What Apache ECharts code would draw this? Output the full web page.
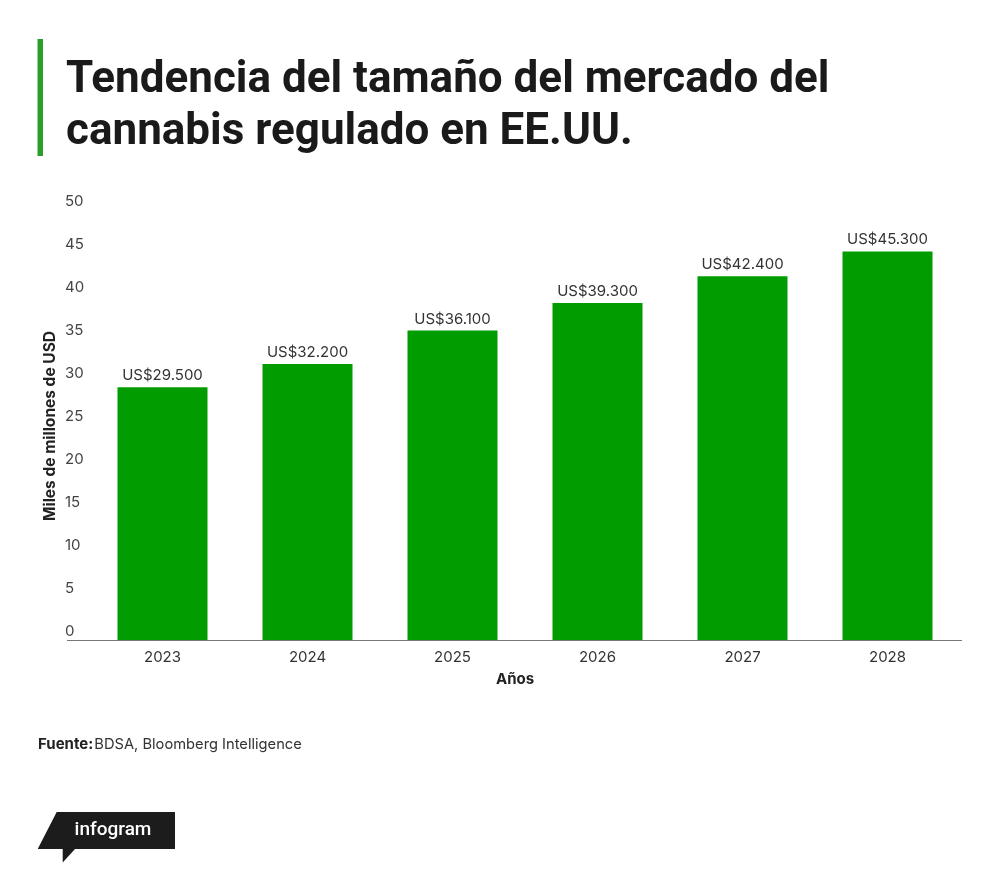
<!DOCTYPE html>
<html><head><meta charset="utf-8">
<script src="https://cdn.jsdelivr.net/npm/echarts@6/dist/echarts.min.js"></script>
<style>html,body{margin:0;padding:0;background:#fff}#c{width:1000px;height:881px}</style>
</head><body><div id="c"></div>
<script>
const years = ['2023','2024','2025','2026','2027','2028'];
const marketSize = [29.5, 32.2, 36.1, 39.3, 42.4, 45.3];
const yTicks = [0, 5, 10, 15, 20, 25, 30, 35, 40, 45, 50];

function fmt(v){
  const n = Math.round(v*1000).toString();
  return 'US$' + n.replace(/\B(?=(\d{3})+(?!\d))/g, '.');
}

const chart = echarts.init(document.getElementById('c'));
chart.setOption({
  backgroundColor:'#fff',
  animation:false,
  title:[
    {text:'Tendencia del tamaño del mercado del\ncannabis regulado en EE.UU.', left:66, top:55, padding:0,
     textStyle:{fontFamily:'Roboto', fontWeight:700, fontSize:44, lineHeight:52, color:'#1a1a1a'}},
    {text:'Años', left:515, top:672, textAlign:'center', padding:0,
     textStyle:{fontFamily:'Inter', fontWeight:700, fontSize:15, color:'#222'}},
    {text:'{b|Fuente:} {r|BDSA, Bloomberg Intelligence}', left:38, top:737, padding:0,
     textStyle:{fontSize:4, rich:{b:{fontFamily:'Inter', fontWeight:700, fontSize:15, color:'#222'},
                      r:{fontFamily:'Inter', fontWeight:400, fontSize:14.7, color:'#333'}}}}
  ],
  grid:{left:90, right:40, top:211, bottom:240, containLabel:false},
  xAxis:{type:'category', data:years,
    axisLine:{show:false}, axisTick:{show:false},
    axisLabel:{fontFamily:'Inter', fontSize:15, color:'#333', margin:9}},
  yAxis:{type:'value', min:yTicks[0], max:yTicks[yTicks.length-1], interval:5,
    name:'Miles de millones de USD', nameLocation:'middle', nameGap:32, nameRotate:90,
    nameMoveOverlap:false,
    nameTextStyle:{fontFamily:'Inter', fontWeight:700, fontSize:15.5, color:'#222'},
    axisLine:{show:false}, axisTick:{show:false}, splitLine:{show:false},
    axisLabel:{fontFamily:'Inter', fontSize:15, color:'#444', align:'left', margin:25,
      verticalAlign:'bottom', padding:[0,0,2,0]}},
  series:[{type:'bar', data:marketSize, barWidth:90,
    itemStyle:{color:'#009c00'},
    label:{show:true, position:'top', distance:4, fontFamily:'Inter', fontSize:15, color:'#333',
      formatter:p=>fmt(p.value)}}],
  graphic:[
    {type:'rect', shape:{x:37.5, y:39, width:5.5, height:117}, style:{fill:'#2a9d2a'}},
    {type:'line', shape:{x1:67, y1:640.5, x2:962, y2:640.5}, style:{stroke:'#777', lineWidth:1.2}, z:10},
    {type:'polygon', shape:{points:[[56.7,812],[175,812],[175,849],[75,849],[62.7,862.5],[62.7,849],[37.7,849]]},
     style:{fill:'#1c1c1c'}},
    {type:'text', x:113, y:830, style:{text:'infogram', fill:'#fff', font:'500 19px Roboto', textAlign:'center', textVerticalAlign:'middle'}}
  ]
});
</script></body></html>
